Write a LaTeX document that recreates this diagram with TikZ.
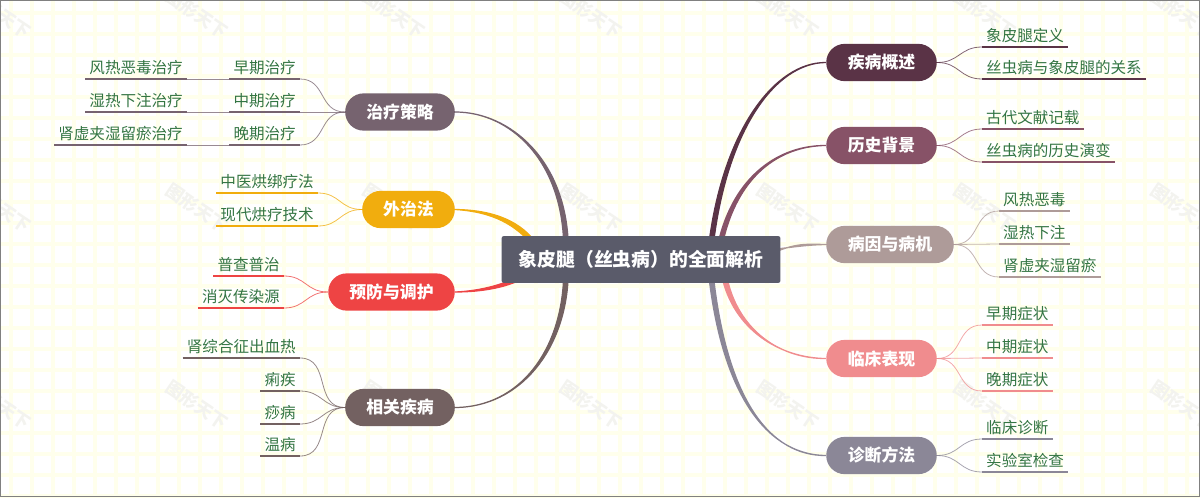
\documentclass[tikz,border=0pt]{standalone}
\usepackage{fontspec}
\setmainfont{Noto Sans CJK SC}
\definecolor{cRoot}{HTML}{5A5B6A}
\definecolor{cCure}{HTML}{76636F}
\definecolor{cOut}{HTML}{F1AD0E}
\definecolor{cPrev}{HTML}{EE4444}
\definecolor{cRel}{HTML}{736161}
\definecolor{cOver}{HTML}{5A3346}
\definecolor{cHist}{HTML}{875267}
\definecolor{cCaus}{HTML}{AE9B99}
\definecolor{cClin}{HTML}{F08C8E}
\definecolor{cDiag}{HTML}{8B8797}
\definecolor{cLeaf}{HTML}{337543}
\definecolor{cGrid}{HTML}{FFFFEC}
\definecolor{cMark}{HTML}{F3F3EF}
\begin{document}
\begin{tikzpicture}[x=0.02cm,y=-0.02cm,
main/.style={rounded corners=10.5pt,fill=#1,text=white,font=\fontsize{9.6pt}{10pt}\selectfont\bfseries,minimum height=21.2pt,inner xsep=0pt,inner ysep=0pt},
leaf/.style={font=\fontsize{8.85pt}{9pt}\selectfont,text=cLeaf,inner xsep=2.2pt,inner ysep=0pt,text depth=3.2pt,text height=7.6pt},
leafR/.style={leaf,anchor=south west},
leafL/.style={leaf,anchor=south east},
under/.style={draw=#1,line width=0.85pt},
twig/.style={draw=#1,line width=0.45pt,opacity=0.75},
limb/.style={draw=#1,fill=#1,line width=0.7pt,line join=round},
wmark/.style={text=cMark,rotate=-34,font=\fontsize{10pt}{10pt}\selectfont\bfseries}]

\useasboundingbox (0,0) rectangle (1200,497);
\fill[white] (0,0) rectangle (1200,497);

% paper
\foreach \i in {0,...,56} \draw[cGrid,line width=2.2pt] (11+21*\i,0) -- (11+21*\i,497);
\foreach \i in {0,...,23} \draw[cGrid,line width=2.2pt] (0,13+21*\i) -- (1200,13+21*\i);
\foreach \i in {0,...,6} {
  \node[wmark] (wa\i) at (0+197*\i,14) {图形天下};
  \node[wmark] (wb\i) at (0+197*\i,208) {图形天下};
  \node[wmark] (wc\i) at (0+197*\i,405) {图形天下};
}

\draw[gray,line width=0.9pt] (0.5,0.5) rectangle (1199.5,496.5);

% second level
\node[main=cCure,minimum width=62.4pt] (A) at (400,112) {治疗策略};
\node[main=cOut,minimum width=52.7pt] (B) at (408.5,209.5) {外治法};
\node[main=cPrev,minimum width=72pt] (C) at (391.5,292) {预防与调护};
\node[main=cRel,minimum width=62.4pt] (D) at (400,407.5) {相关疾病};
\node[main=cOver,minimum width=62.9pt] (E) at (881.5,62.5) {疾病概述};
\node[main=cHist,minimum width=62.9pt] (F) at (881.5,145.5) {历史背景};
\node[main=cCaus,minimum width=72.6pt] (G) at (890,244.5) {病因与病机};
\node[main=cClin,minimum width=62.9pt] (H) at (881.5,358.5) {临床表现};
\node[main=cDiag,minimum width=62.9pt] (I) at (881.5,455.5) {诊断方法};

% root anchors
\coordinate (rA) at (566,245);
\coordinate (rB) at (535,245);
\coordinate (rC) at (530,272);
\coordinate (rD) at (566,275);
\coordinate (rE) at (711,245);
\coordinate (rF) at (720,245);
\coordinate (rG) at (770,252);
\coordinate (rH) at (724,275);
\coordinate (rI) at (711,275);

\draw[limb=cCure] (A.east) .. controls (510,112) and (566,160) .. ([xshift=1.3pt]rA) -- ([xshift=-1.3pt]rA) .. controls (562,160) and (510,112) .. (A.east);
\draw[limb=cOut] (B.east) .. controls (495,210) and (522,222) .. ([xshift=1.4pt]rB) -- ([xshift=-1.4pt]rB) .. controls (516,226) and (495,212) .. (B.east);
\draw[limb=cPrev] (C.east) .. controls (480,292) and (510,288) .. ([yshift=-1.4pt]rC) -- ([yshift=1.4pt]rC) .. controls (510,284) and (480,291) .. (C.east);
\draw[limb=cRel] (D.east) .. controls (520,407) and (566,350) .. ([xshift=1.3pt]rD) -- ([xshift=-1.3pt]rD) .. controls (562,350) and (520,407) .. (D.east);
\draw[limb=cOver] (E.west) .. controls (775,63) and (727,130) .. ([xshift=1.3pt]rE) -- ([xshift=-1.3pt]rE) .. controls (723,130) and (775,62) .. (E.west);
\draw[limb=cHist] (F.west) .. controls (780,146) and (737,175) .. ([xshift=1.3pt]rF) -- ([xshift=-1.3pt]rF) .. controls (733,175) and (780,145) .. (F.west);
\draw[limb=cCaus] (G.west) .. controls (805,245) and (795,247) .. ([yshift=1.3pt]rG) -- ([yshift=-1.3pt]rG) .. controls (795,243) and (805,244) .. (G.west);
\draw[limb=cClin] (H.west) .. controls (780,359) and (737,330) .. ([xshift=1.4pt]rH) -- ([xshift=-1.4pt]rH) .. controls (733,330) and (780,358) .. (H.west);
\draw[limb=cDiag] (I.west) .. controls (770,456) and (727,400) .. ([xshift=1.3pt]rI) -- ([xshift=-1.3pt]rI) .. controls (723,400) and (770,455) .. (I.west);

% left side leaves
\node[leafL] (a1) at (300,79) {早期治疗};
\draw[under=cCure] (a1.south west) -- (a1.south east);
\draw[twig=cCure] (A.west) to[out=180,in=0,looseness=1.2] (a1.south east);
\node[leafL] (a2) at (300,112) {中期治疗};
\draw[under=cCure] (a2.south west) -- (a2.south east);
\draw[twig=cCure] (A.west) -- (a2.south east);
\node[leafL] (a3) at (300,145) {晚期治疗};
\draw[under=cCure] (a3.south west) -- (a3.south east);
\draw[twig=cCure] (A.west) to[out=180,in=0,looseness=1.2] (a3.south east);

\node[leafL] (a11) at (187,79) {风热恶毒治疗};
\draw[under=cCure] (a11.south west) -- (a11.south east);
\draw[twig=cCure] (a1.south west) -- (a11.south east);
\node[leafL] (a21) at (187,112) {湿热下注治疗};
\draw[under=cCure] (a21.south west) -- (a21.south east);
\draw[twig=cCure] (a2.south west) -- (a21.south east);
\node[leafL] (a31) at (187,145) {肾虚夹湿留瘀治疗};
\draw[under=cCure] (a31.south west) -- (a31.south east);
\draw[twig=cCure] (a3.south west) -- (a31.south east);

\node[leafL] (b1) at (318,193) {中医烘绑疗法};
\draw[under=cOut] (b1.south west) -- (b1.south east);
\draw[twig=cOut] (B.west) to[out=180,in=0,looseness=1.2] (b1.south east);
\node[leafL] (b2) at (318,226) {现代烘疗技术};
\draw[under=cOut] (b2.south west) -- (b2.south east);
\draw[twig=cOut] (B.west) to[out=180,in=0,looseness=1.2] (b2.south east);

\node[leafL] (c1) at (284,276) {普查普治};
\draw[under=cPrev] (c1.south west) -- (c1.south east);
\draw[twig=cPrev] (C.west) to[out=180,in=0,looseness=1.2] (c1.south east);
\node[leafL] (c2) at (284,308) {消灭传染源};
\draw[under=cPrev] (c2.south west) -- (c2.south east);
\draw[twig=cPrev] (C.west) to[out=180,in=0,looseness=1.2] (c2.south east);

\node[leafL] (d1) at (300,358) {肾综合征出血热};
\draw[under=cRel] (d1.south west) -- (d1.south east);
\draw[twig=cRel] (D.west) to[out=180,in=0,looseness=1.2] (d1.south east);
\node[leafL] (d2) at (300,391) {痢疾};
\draw[under=cRel] (d2.south west) -- (d2.south east);
\draw[twig=cRel] (D.west) to[out=180,in=0,looseness=1.2] (d2.south east);
\node[leafL] (d3) at (300,424) {痧病};
\draw[under=cRel] (d3.south west) -- (d3.south east);
\draw[twig=cRel] (D.west) to[out=180,in=0,looseness=1.2] (d3.south east);
\node[leafL] (d4) at (300,456) {温病};
\draw[under=cRel] (d4.south west) -- (d4.south east);
\draw[twig=cRel] (D.west) to[out=180,in=0,looseness=1.2] (d4.south east);

% right side leaves
\node[leafR] (e1) at (982,47) {象皮腿定义};
\draw[under=cOver] (e1.south west) -- (e1.south east);
\draw[twig=cOver] (E.east) to[out=0,in=180,looseness=1.2] (e1.south west);
\node[leafR] (e2) at (982,79) {丝虫病与象皮腿的关系};
\draw[under=cOver] (e2.south west) -- (e2.south east);
\draw[twig=cOver] (E.east) to[out=0,in=180,looseness=1.2] (e2.south west);

\node[leafR] (f1) at (982,129) {古代文献记载};
\draw[under=cHist] (f1.south west) -- (f1.south east);
\draw[twig=cHist] (F.east) to[out=0,in=180,looseness=1.2] (f1.south west);
\node[leafR] (f2) at (982,162) {丝虫病的历史演变};
\draw[under=cHist] (f2.south west) -- (f2.south east);
\draw[twig=cHist] (F.east) to[out=0,in=180,looseness=1.2] (f2.south west);

\node[leafR] (g1) at (999,211) {风热恶毒};
\draw[under=cCaus] (g1.south west) -- (g1.south east);
\draw[twig=cCaus] (G.east) to[out=0,in=180,looseness=1.2] (g1.south west);
\node[leafR] (g2) at (999,244) {湿热下注};
\draw[under=cCaus] (g2.south west) -- (g2.south east);
\draw[twig=cCaus] (G.east) -- (g2.south west);
\node[leafR] (g3) at (999,277) {肾虚夹湿留瘀};
\draw[under=cCaus] (g3.south west) -- (g3.south east);
\draw[twig=cCaus] (G.east) to[out=0,in=180,looseness=1.2] (g3.south west);

\node[leafR] (h1) at (982,325) {早期症状};
\draw[under=cClin] (h1.south west) -- (h1.south east);
\draw[twig=cClin] (H.east) to[out=0,in=180,looseness=1.2] (h1.south west);
\node[leafR] (h2) at (982,358) {中期症状};
\draw[under=cClin] (h2.south west) -- (h2.south east);
\draw[twig=cClin] (H.east) -- (h2.south west);
\node[leafR] (h3) at (982,391) {晚期症状};
\draw[under=cClin] (h3.south west) -- (h3.south east);
\draw[twig=cClin] (H.east) to[out=0,in=180,looseness=1.2] (h3.south west);

\node[leafR] (i1) at (982,439) {临床诊断};
\draw[under=cDiag] (i1.south west) -- (i1.south east);
\draw[twig=cDiag] (I.east) to[out=0,in=180,looseness=1.2] (i1.south west);
\node[leafR] (i2) at (982,472) {实验室检查};
\draw[under=cDiag] (i2.south west) -- (i2.south east);
\draw[twig=cDiag] (I.east) to[out=0,in=180,looseness=1.2] (i2.south west);

% root
\node[fill=cRoot,rounded corners=1.2pt,text=white,font=\fontsize{10.7pt}{11pt}\selectfont\bfseries,minimum width=158.7pt,minimum height=26.6pt,inner sep=0pt] (root) at (641,259.5) {象皮腿（丝虫病）的全面解析};
\end{tikzpicture}
\end{document}
